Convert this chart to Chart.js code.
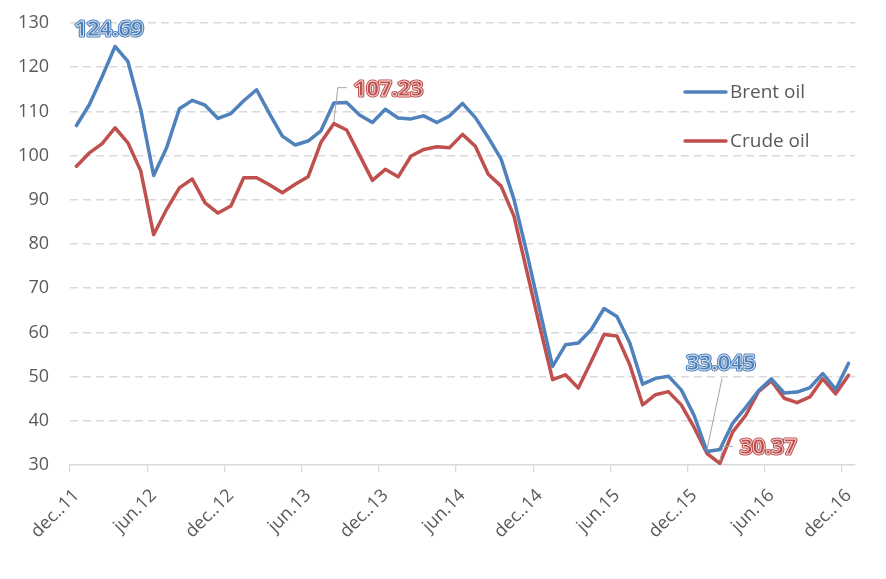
<!DOCTYPE html>
<html lang="en">
<head>
<meta charset="utf-8">
<title>Brent oil vs Crude oil</title>
<script src="https://cdn.jsdelivr.net/npm/chart.js@4.4.1/dist/chart.umd.min.js"></script>
<style>
  html, body { margin: 0; padding: 0; background: #fff; }
  #wrap { width: 886px; height: 579px; position: relative; }
</style>
</head>
<body>
<div id="wrap"><canvas id="chart"></canvas></div>
<script>
// monthly, dec 2011 .. dec 2016
const months = [
  'dec..11', 'jan.12', 'feb.12', 'mar.12', 'apr.12', 'mai.12', 'jun.12', 'jul.12', 'aug.12', 'sep.12', 'okt.12', 'nov.12',
  'dec..12', 'jan.13', 'feb.13', 'mar.13', 'apr.13', 'mai.13', 'jun.13', 'jul.13', 'aug.13', 'sep.13', 'okt.13', 'nov.13',
  'dec..13', 'jan.14', 'feb.14', 'mar.14', 'apr.14', 'mai.14', 'jun.14', 'jul.14', 'aug.14', 'sep.14', 'okt.14', 'nov.14',
  'dec..14', 'jan.15', 'feb.15', 'mar.15', 'apr.15', 'mai.15', 'jun.15', 'jul.15', 'aug.15', 'sep.15', 'okt.15', 'nov.15',
  'dec..15', 'jan.16', 'feb.16', 'mar.16', 'apr.16', 'mai.16', 'jun.16', 'jul.16', 'aug.16', 'sep.16', 'okt.16', 'nov.16',
  'dec..16'
];

const brent = [
  106.8, 111.5, 117.9, 124.69, 121.3, 110.4, 95.5, 101.7, 110.6, 112.5,
  111.4, 108.4, 109.5, 112.4, 114.9, 109.5, 104.4, 102.4, 103.3, 105.6,
  111.9, 112.0, 109.2, 107.5, 110.5, 108.5, 108.3, 109.0, 107.5, 109.0,
  111.8, 108.6, 104.1, 99.2, 90.1, 78.0, 65.1, 52.3, 57.2, 57.6,
  60.6, 65.4, 63.6, 57.6, 48.3, 49.6, 50.1, 47.0, 41.2, 33.045,
  33.5, 39.5, 43.0, 46.8, 49.5, 46.3, 46.5, 47.5, 50.7, 47.1, 53.0
];

const crude = [
  97.6, 100.6, 102.7, 106.3, 102.9, 96.5, 82.1, 87.8, 92.7, 94.7,
  89.3, 87.0, 88.6, 95.0, 95.0, 93.4, 91.6, 93.5, 95.2, 103.0,
  107.23, 105.8, 100.1, 94.4, 96.9, 95.2, 99.9, 101.4, 102.0, 101.8,
  104.8, 102.1, 95.8, 93.1, 86.3, 73.8, 61.4, 49.3, 50.4, 47.4,
  53.4, 59.5, 59.2, 52.7, 43.6, 45.9, 46.6, 43.6, 38.5, 32.6,
  30.37, 37.5, 41.2, 46.6, 49.0, 45.1, 44.1, 45.4, 49.5, 46.1, 50.3
];

const seriesNames = ['Brent oil', 'Crude oil'];
const yTicks = { min: 30, max: 130, step: 10 };
const labelEvery = 6;

// value callouts: dataset, point index, text
const callouts = [
  { ds: 0, idx: 3, text: '124.69' },
  { ds: 1, idx: 20, text: '107.23' },
  { ds: 0, idx: 49, text: '33.045' },
  { ds: 1, idx: 50, text: '30.37' }
];

const BLUE = '#4f81bd';
const RED = '#c0504d';
const TEXT = '#595959';
const GRID = '#d9d9d9';

// where each callout text sits relative to its point, plus leader line
const calloutStyle = [
  { dx: -6, dy: -17, align: 'center', leader: null },
  { dx: 20, dy: -34, align: 'left', leader: [[4, -36], [13, -36]] },
  { dx: 14, dy: -88, align: 'center', leader: [[15, -73]] },
  { dx: 20, dy: -16, align: 'left', leader: [[3, -17], [13, -17]] }
];

const overlayPlugin = {
  id: 'overlay',
  afterDatasetsDraw(chart) {
    const ctx = chart.ctx;
    ctx.save();

    // legend inside the plot
    chart.data.datasets.forEach((ds, i) => {
      const y = 92 + i * 49;
      ctx.strokeStyle = ds.borderColor;
      ctx.lineWidth = 3.5;
      ctx.lineCap = 'round';
      ctx.beginPath();
      ctx.moveTo(685, y);
      ctx.lineTo(726, y);
      ctx.stroke();
      ctx.fillStyle = TEXT;
      ctx.font = '19px "Open Sans"';
      ctx.textAlign = 'left';
      ctx.textBaseline = 'middle';
      ctx.fillText(ds.label, 730, y + 1);
    });

    // callouts
    callouts.forEach((c, k) => {
      const st = calloutStyle[k];
      const pt = chart.getDatasetMeta(c.ds).data[c.idx];
      const color = chart.data.datasets[c.ds].borderColor;
      if (st.leader) {
        ctx.strokeStyle = '#a6a6a6';
        ctx.lineWidth = 1;
        ctx.lineCap = 'butt';
        ctx.beginPath();
        ctx.moveTo(pt.x, pt.y - 2);
        st.leader.forEach(p => ctx.lineTo(pt.x + p[0], pt.y + p[1]));
        ctx.stroke();
      }
      ctx.font = 'bold 22px "Open Sans"';
      ctx.textAlign = st.align;
      ctx.textBaseline = 'middle';
      ctx.lineJoin = 'round';
      const tx = pt.x + st.dx, ty = pt.y + st.dy;
      ctx.strokeStyle = color;
      ctx.lineWidth = 3;
      ctx.strokeText(c.text, tx, ty);
      ctx.fillStyle = color;
      ctx.fillText(c.text, tx, ty);
      ctx.strokeStyle = 'rgba(255,255,255,0.85)';
      ctx.lineWidth = 0.8;
      ctx.strokeText(c.text, tx, ty);
    });
    ctx.restore();
  }
};

new Chart(document.getElementById('chart'), {
  type: 'line',
  data: {
    labels: months,
    datasets: [
      { label: seriesNames[0], data: brent, borderColor: BLUE, backgroundColor: BLUE },
      { label: seriesNames[1], data: crude, borderColor: RED, backgroundColor: RED }
    ]
  },
  options: {
    responsive: true,
    maintainAspectRatio: false,
    animation: false,
    layout: { padding: { top: 23, right: 31, bottom: 0, left: 0 } },
    elements: {
      line: { borderWidth: 3.5, tension: 0, borderCapStyle: 'round', borderJoinStyle: 'round' },
      point: { radius: 0, hoverRadius: 0 }
    },
    plugins: {
      legend: { display: false },
      tooltip: { enabled: false }
    },
    scales: {
      x: {
        type: 'category',
        offset: true,
        afterFit: s => { s.height = 114; },
        grid: {
          offset: true,
          drawOnChartArea: false,
          drawTicks: true,
          tickLength: 7,
          lineWidth: 1.3,
          tickColor: c => (c.index % labelEvery === 0 ? GRID : 'transparent')
        },
        border: { display: true, color: GRID, width: 1.5 },
        ticks: {
          autoSkip: false,
          minRotation: 45,
          maxRotation: 45,
          padding: 13,
          color: TEXT,
          font: { family: 'Open Sans', size: 18 },
          callback: (v, i) => (i % labelEvery === 0 ? months[i] : '')
        }
      },
      y: {
        min: yTicks.min,
        max: yTicks.max,
        afterFit: s => { s.width = 70; s.paddingTop = 10; s.paddingBottom = 10; },
        grid: {
          drawTicks: false,
          lineWidth: 1.5,
          color: c => (c.tick && c.tick.value === yTicks.min ? 'transparent' : GRID)
        },
        border: { display: false, dash: [8, 5] },
        ticks: {
          stepSize: yTicks.step,
          padding: 21,
          color: TEXT,
          font: { family: 'Open Sans', size: 18 }
        }
      }
    }
  },
  plugins: [overlayPlugin]
});
</script>
</body>
</html>
